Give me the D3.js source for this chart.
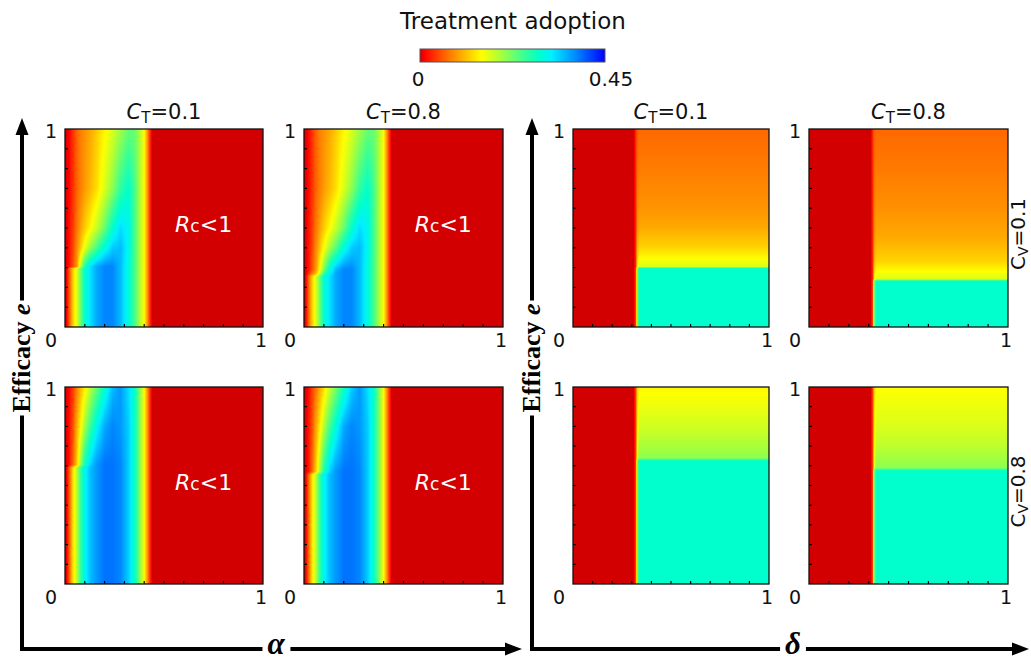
<!DOCTYPE html>
<html>
<head>
<meta charset="utf-8">
<script src="https://cdn.jsdelivr.net/npm/d3@7"></script>
<style>
  body { margin: 0; background: #fff; }
</style>
</head>
<body>
<svg id="chart" width="1031" height="662"></svg>
<script>
// ---- colour scale (treatment adoption 0 .. 0.45) ----
const colorVals = [0, 0.01, 0.075, 0.15, 0.2, 0.25, 0.29, 0.32, 0.375, 0.45];
const colorHex  = ['#d20000', '#ff0000', '#ff8000', '#ffff00', '#a0ff40', '#40ff90', '#00ffcc', '#00f0ff', '#0090ff', '#0000ff'];

// ---- x grids ----
const alphaCols = [0, 0.01, 0.02, 0.04, 0.06, 0.08, 0.1, 0.13, 0.16, 0.2, 0.24, 0.28, 0.32, 0.35, 0.38, 0.4, 0.415, 0.43, 0.44, 1];
const deltaCols = [0, 0.31, 0.32, 0.325, 0.33, 0.34, 1];

// ---- rows: [e, value at each column] ----
const alphaCt01Cv01 = [
  [0.00, 0, 0.01, 0.05, 0.12, 0.17, 0.23, 0.29, 0.33, 0.36, 0.38, 0.38, 0.35, 0.30, 0.25, 0.19, 0.15, 0.09, 0.03, 0, 0],
  [0.295, 0, 0.01, 0.05, 0.12, 0.17, 0.23, 0.29, 0.33, 0.36, 0.38, 0.38, 0.35, 0.30, 0.25, 0.19, 0.15, 0.09, 0.03, 0, 0],
  [0.305, 0, 0.005, 0.015, 0.05, 0.09, 0.19, 0.27, 0.33, 0.36, 0.38, 0.38, 0.35, 0.30, 0.25, 0.19, 0.15, 0.09, 0.03, 0, 0],
  [0.40, 0, 0.005, 0.015, 0.045, 0.08, 0.12, 0.16, 0.21, 0.25, 0.30, 0.34, 0.35, 0.31, 0.25, 0.19, 0.15, 0.09, 0.03, 0, 0],
  [0.50, 0, 0.005, 0.015, 0.04, 0.07, 0.095, 0.12, 0.15, 0.18, 0.23, 0.29, 0.33, 0.31, 0.25, 0.19, 0.15, 0.09, 0.03, 0, 0],
  [0.70, 0, 0.005, 0.01, 0.035, 0.06, 0.075, 0.09, 0.11, 0.13, 0.17, 0.21, 0.26, 0.29, 0.25, 0.19, 0.15, 0.09, 0.03, 0, 0],
  [1.00, 0, 0.005, 0.01, 0.035, 0.06, 0.075, 0.085, 0.10, 0.12, 0.145, 0.17, 0.20, 0.23, 0.23, 0.19, 0.15, 0.09, 0.03, 0, 0]
];
const alphaCt08Cv01 = [
  [0.00, 0, 0.01, 0.05, 0.12, 0.17, 0.23, 0.29, 0.33, 0.36, 0.38, 0.38, 0.35, 0.30, 0.25, 0.19, 0.15, 0.09, 0.03, 0, 0],
  [0.255, 0, 0.01, 0.05, 0.12, 0.17, 0.23, 0.29, 0.33, 0.36, 0.38, 0.38, 0.35, 0.30, 0.25, 0.19, 0.15, 0.09, 0.03, 0, 0],
  [0.27, 0, 0.005, 0.025, 0.07, 0.11, 0.18, 0.26, 0.32, 0.36, 0.38, 0.38, 0.35, 0.30, 0.25, 0.19, 0.15, 0.09, 0.03, 0, 0],
  [0.29, 0, 0.005, 0.015, 0.05, 0.09, 0.15, 0.22, 0.30, 0.35, 0.38, 0.38, 0.35, 0.30, 0.25, 0.19, 0.15, 0.09, 0.03, 0, 0],
  [0.40, 0, 0.005, 0.015, 0.045, 0.08, 0.115, 0.15, 0.20, 0.24, 0.30, 0.34, 0.35, 0.31, 0.25, 0.19, 0.15, 0.09, 0.03, 0, 0],
  [0.50, 0, 0.005, 0.015, 0.04, 0.07, 0.095, 0.12, 0.15, 0.18, 0.23, 0.29, 0.33, 0.31, 0.25, 0.19, 0.15, 0.09, 0.03, 0, 0],
  [0.70, 0, 0.005, 0.01, 0.035, 0.06, 0.075, 0.09, 0.11, 0.13, 0.17, 0.21, 0.26, 0.29, 0.25, 0.19, 0.15, 0.09, 0.03, 0, 0],
  [1.00, 0, 0.005, 0.01, 0.035, 0.06, 0.075, 0.085, 0.10, 0.12, 0.145, 0.17, 0.20, 0.23, 0.23, 0.19, 0.15, 0.09, 0.03, 0, 0]
];
const alphaCt01Cv08 = [
  [0.00, 0, 0.01, 0.05, 0.13, 0.19, 0.26, 0.31, 0.35, 0.37, 0.39, 0.39, 0.38, 0.34, 0.29, 0.21, 0.15, 0.09, 0.03, 0, 0],
  [0.59, 0, 0.01, 0.05, 0.13, 0.19, 0.26, 0.31, 0.35, 0.37, 0.39, 0.39, 0.38, 0.34, 0.29, 0.21, 0.15, 0.09, 0.03, 0, 0],
  [0.605, 0, 0.005, 0.015, 0.06, 0.12, 0.21, 0.28, 0.34, 0.37, 0.39, 0.39, 0.38, 0.34, 0.29, 0.21, 0.15, 0.09, 0.03, 0, 0],
  [0.80, 0, 0.005, 0.015, 0.05, 0.10, 0.15, 0.20, 0.26, 0.31, 0.36, 0.38, 0.37, 0.34, 0.29, 0.21, 0.15, 0.09, 0.03, 0, 0],
  [1.00, 0, 0.005, 0.01, 0.04, 0.075, 0.11, 0.14, 0.19, 0.23, 0.29, 0.35, 0.37, 0.33, 0.29, 0.21, 0.15, 0.09, 0.03, 0, 0]
];
const alphaCt08Cv08 = [
  [0.00, 0, 0.01, 0.05, 0.13, 0.19, 0.26, 0.31, 0.35, 0.37, 0.39, 0.39, 0.38, 0.34, 0.29, 0.21, 0.15, 0.09, 0.03, 0, 0],
  [0.555, 0, 0.01, 0.05, 0.13, 0.19, 0.26, 0.31, 0.35, 0.37, 0.39, 0.39, 0.38, 0.34, 0.29, 0.21, 0.15, 0.09, 0.03, 0, 0],
  [0.57, 0, 0.005, 0.015, 0.06, 0.12, 0.20, 0.27, 0.34, 0.37, 0.39, 0.39, 0.38, 0.34, 0.29, 0.21, 0.15, 0.09, 0.03, 0, 0],
  [0.80, 0, 0.005, 0.015, 0.05, 0.095, 0.14, 0.19, 0.25, 0.30, 0.36, 0.38, 0.37, 0.34, 0.29, 0.21, 0.15, 0.09, 0.03, 0, 0],
  [1.00, 0, 0.005, 0.01, 0.04, 0.07, 0.10, 0.13, 0.18, 0.22, 0.28, 0.34, 0.37, 0.33, 0.29, 0.21, 0.15, 0.09, 0.03, 0, 0]
];
const deltaCt01Cv01 = [
  [0.00, 0, 0, 0.04, 0.15, 0.24, 0.29, 0.29],
  [0.295, 0, 0, 0.04, 0.15, 0.24, 0.29, 0.29],
  [0.305, 0, 0, 0.03, 0.10, 0.15, 0.17, 0.17],
  [0.40, 0, 0, 0.03, 0.08, 0.11, 0.125, 0.125],
  [0.50, 0, 0, 0.03, 0.065, 0.09, 0.10, 0.10],
  [0.60, 0, 0, 0.03, 0.06, 0.08, 0.087, 0.087],
  [0.80, 0, 0, 0.03, 0.055, 0.068, 0.073, 0.073],
  [1.00, 0, 0, 0.03, 0.05, 0.058, 0.063, 0.063]
];
const deltaCt08Cv01 = [
  [0.00, 0, 0, 0.04, 0.15, 0.24, 0.29, 0.29],
  [0.232, 0, 0, 0.04, 0.15, 0.24, 0.29, 0.29],
  [0.242, 0, 0, 0.03, 0.10, 0.15, 0.17, 0.17],
  [0.33, 0, 0, 0.03, 0.08, 0.11, 0.125, 0.125],
  [0.45, 0, 0, 0.03, 0.065, 0.09, 0.10, 0.10],
  [0.60, 0, 0, 0.03, 0.06, 0.078, 0.085, 0.085],
  [0.80, 0, 0, 0.03, 0.055, 0.067, 0.072, 0.072],
  [1.00, 0, 0, 0.03, 0.05, 0.058, 0.063, 0.063]
];
const deltaCt01Cv08 = [
  [0.00, 0, 0, 0.04, 0.15, 0.24, 0.29, 0.29],
  [0.625, 0, 0, 0.04, 0.15, 0.24, 0.29, 0.29],
  [0.64, 0, 0, 0.04, 0.12, 0.18, 0.21, 0.21],
  [0.70, 0, 0, 0.04, 0.11, 0.17, 0.195, 0.195],
  [0.80, 0, 0, 0.04, 0.10, 0.15, 0.175, 0.175],
  [0.90, 0, 0, 0.04, 0.10, 0.14, 0.16, 0.16],
  [1.00, 0, 0, 0.04, 0.09, 0.13, 0.145, 0.145]
];
const deltaCt08Cv08 = [
  [0.00, 0, 0, 0.04, 0.15, 0.24, 0.29, 0.29],
  [0.575, 0, 0, 0.04, 0.15, 0.24, 0.29, 0.29],
  [0.59, 0, 0, 0.04, 0.12, 0.18, 0.21, 0.21],
  [0.70, 0, 0, 0.04, 0.11, 0.16, 0.185, 0.185],
  [0.80, 0, 0, 0.04, 0.10, 0.15, 0.17, 0.17],
  [1.00, 0, 0, 0.04, 0.09, 0.13, 0.15, 0.15]
];

const ctLabels = ['0.1', '0.8'];
const cvLabels = ['0.1', '0.8'];
const tickVals = [0.1, 0.2, 0.3, 0.4, 0.5, 0.6, 0.7, 0.8, 0.9];
const rcPos = [0.70, 0.52];

// ---- layout ----
const colX = [65, 304, 573, 809], colW = [198, 199, 196, 199];
const rowY = [129, 387], rowH = [198, 197];
const SANS = '"DejaVu Sans", sans-serif';
const SERIF = '"Liberation Serif", "Times New Roman", serif';

const panels = [
  { c: 0, r: 0, cols: alphaCols, rows: alphaCt01Cv01, ct: 0, rc: true },
  { c: 1, r: 0, cols: alphaCols, rows: alphaCt08Cv01, ct: 1, rc: true },
  { c: 2, r: 0, cols: deltaCols, rows: deltaCt01Cv01, ct: 0 },
  { c: 3, r: 0, cols: deltaCols, rows: deltaCt08Cv01, ct: 1, cv: 0 },
  { c: 0, r: 1, cols: alphaCols, rows: alphaCt01Cv08, rc: true },
  { c: 1, r: 1, cols: alphaCols, rows: alphaCt08Cv08, rc: true },
  { c: 2, r: 1, cols: deltaCols, rows: deltaCt01Cv08 },
  { c: 3, r: 1, cols: deltaCols, rows: deltaCt08Cv08, cv: 1 }
];

const svg = d3.select('#chart');
const defs = svg.append('defs');
const color = d3.scaleLinear().domain(colorVals).range(colorHex).clamp(true);
let gradCount = 0;

function drawHeat(g, p, w, h) {
  const ys = d3.scaleLinear().domain([0, 1]).range([h, 0]);
  const byE = d3.bisector(r => r[0]).left;
  let prevKey = null, strip = null, stripH = 0;
  for (let py = 0; py < h; py++) {
    const e = ys.invert(py + 0.5);
    const i = Math.min(Math.max(byE(p.rows, e), 1), p.rows.length - 1);
    const a = p.rows[i - 1], b = p.rows[i];
    const t = Math.max(0, Math.min(1, (e - a[0]) / (b[0] - a[0])));
    const vals = p.cols.map((c, k) => a[k + 1] + (b[k + 1] - a[k + 1]) * t);
    const key = vals.map(v => v.toFixed(3)).join(',');
    if (key === prevKey) { stripH++; strip.attr('height', stripH); continue; }
    prevKey = key;
    const gid = 'hg' + (gradCount++);
    const lg = defs.append('linearGradient').attr('id', gid);
    p.cols.forEach((c, k) => {
      if (k > 0 && vals[k] !== vals[k - 1]) {
        for (let s = 1; s < 4; s++) {
          const f = s / 4;
          lg.append('stop')
            .attr('offset', p.cols[k - 1] + (c - p.cols[k - 1]) * f)
            .attr('stop-color', color(vals[k - 1] + (vals[k] - vals[k - 1]) * f));
        }
      }
      lg.append('stop').attr('offset', c).attr('stop-color', color(vals[k]));
    });
    stripH = 1;
    strip = g.append('rect').attr('x', 0).attr('y', py).attr('width', w).attr('height', 1)
      .attr('shape-rendering', 'crispEdges').attr('fill', `url(#${gid})`);
  }
}

panels.forEach(p => {
  const x0 = colX[p.c], y0 = rowY[p.r], w = colW[p.c], h = rowH[p.r];
  const g = svg.append('g').attr('transform', `translate(${x0},${y0})`);
  drawHeat(g, p, w, h);

  const xs = d3.scaleLinear().domain([0, 1]).range([0, w]);
  const ys = d3.scaleLinear().domain([0, 1]).range([h, 0]);

  // inward ticks
  g.selectAll('.tx').data(tickVals).join('line')
    .attr('x1', d => xs(d)).attr('x2', d => xs(d)).attr('y1', h).attr('y2', h - 3)
    .attr('stroke', '#000').attr('stroke-width', 1.2);
  g.selectAll('.ty').data(tickVals).join('line')
    .attr('y1', d => ys(d)).attr('y2', d => ys(d)).attr('x1', 0).attr('x2', 3)
    .attr('stroke', '#000').attr('stroke-width', 1.2);

  g.append('rect').attr('width', w).attr('height', h)
    .attr('fill', 'none').attr('stroke', '#111').attr('stroke-width', 1.3);

  // tick labels
  const tl = [[-14, ys(1) + 9, '1'], [-14, h + 20, '0'], [w - 2, h + 20, '1']];
  tl.forEach(d => g.append('text').attr('x', d[0]).attr('y', d[1]).attr('text-anchor', 'middle')
    .style('font-family', SANS).attr('font-size', 19).attr('fill', '#111').text(d[2]));

  if (p.ct !== undefined) {
    const t = g.append('text').attr('x', w / 2).attr('y', -10).attr('text-anchor', 'middle')
      .style('font-family', SANS).attr('font-size', 21).attr('fill', '#111');
    t.append('tspan').attr('font-style', 'italic').text('C');
    t.append('tspan').attr('font-size', 15).attr('dy', 4).text('T');
    t.append('tspan').attr('dy', -4).text('=' + ctLabels[p.ct]);
  }

  if (p.rc) {
    const t = g.append('text').attr('x', xs(rcPos[0])).attr('y', ys(rcPos[1]) + 8)
      .attr('text-anchor', 'middle').style('font-family', SANS).attr('font-size', 22).attr('fill', '#fff');
    t.append('tspan').attr('font-style', 'italic').text('R');
    t.append('tspan').attr('font-size', 17).text('c');
    t.append('tspan').text('<1');
  }

  if (p.cv !== undefined) {
    const t = svg.append('text')
      .attr('transform', `translate(${x0 + w + 17},${y0 + h / 2 + 6}) rotate(-90)`)
      .attr('text-anchor', 'middle').style('font-family', SANS).attr('font-size', 20).attr('fill', '#111');
    t.append('tspan').text('C');
    t.append('tspan').attr('font-size', 14).attr('dy', 3).text('V');
    t.append('tspan').attr('dy', -3).text('=' + cvLabels[p.cv]);
  }
});

// ---- colour bar ----
const cbX = d3.scaleLinear().domain([0, 0.45]).range([420, 605]);
const cbg = defs.append('linearGradient').attr('id', 'cbar');
d3.range(0, 0.4501, 0.005).forEach(v =>
  cbg.append('stop').attr('offset', v / 0.45).attr('stop-color', color(v)));
svg.append('rect').attr('x', cbX(0)).attr('y', 49).attr('width', cbX(0.45) - cbX(0)).attr('height', 13)
  .attr('fill', 'url(#cbar)').attr('stroke', '#555').attr('stroke-width', 1);
svg.append('text').attr('x', 513).attr('y', 29).attr('text-anchor', 'middle').style('font-family', SANS)
  .attr('font-size', 23).attr('fill', '#111').text('Treatment adoption');
svg.append('text').attr('x', cbX(0) - 2).attr('y', 86).attr('text-anchor', 'middle').style('font-family', SANS)
  .attr('font-size', 20).attr('fill', '#111').text('0');
svg.append('text').attr('x', cbX(0.45) + 6).attr('y', 86).attr('text-anchor', 'middle').style('font-family', SANS)
  .attr('font-size', 20).attr('fill', '#111').text('0.45');

// ---- big axis arrows (lines broken around their labels) ----
function axisFrame(xv, xEnd, xLabel, xLabelPos) {
  const yh = 649, yTop = 118, yMid = 358;

  const ylab = svg.append('text').attr('transform', `translate(${xv + 8},${yMid}) rotate(-90)`)
    .attr('text-anchor', 'middle').style('font-family', SERIF)
    .attr('font-weight', 'bold').attr('font-size', 26).attr('fill', '#000');
  ylab.append('tspan').text('Efficacy ');
  ylab.append('tspan').attr('font-style', 'italic').text('e');
  const half = ylab.node().getBBox().width / 2 + 3;

  const xl = svg.append('text').attr('x', xLabelPos).attr('y', 654).attr('text-anchor', 'middle')
    .style('font-family', SERIF).attr('font-weight', 'bold').attr('font-style', 'italic')
    .attr('font-size', 31).attr('fill', '#000').text(xLabel);
  const xb = xl.node().getBBox();

  const path = `M${xv},${yTop + 14}V${yMid - half}` +
    `M${xv},${yMid + half}V${yh}H${xb.x - 5}` +
    `M${xb.x + xb.width + 5},${yh}H${xEnd - 14}`;
  svg.append('path').attr('d', path)
    .attr('fill', 'none').attr('stroke', '#000').attr('stroke-width', 4).attr('stroke-linejoin', 'miter');
  svg.append('path').attr('d', `M${xv},${yTop}L${xv - 6.5},${yTop + 17}L${xv + 6.5},${yTop + 17}Z`).attr('fill', '#000');
  svg.append('path').attr('d', `M${xEnd},${yh}L${xEnd - 17},${yh - 6.5}L${xEnd - 17},${yh + 6.5}Z`).attr('fill', '#000');
}
axisFrame(22, 522, 'α', 276);
axisFrame(532, 1029, 'δ', 793);
</script>
</body>
</html>
